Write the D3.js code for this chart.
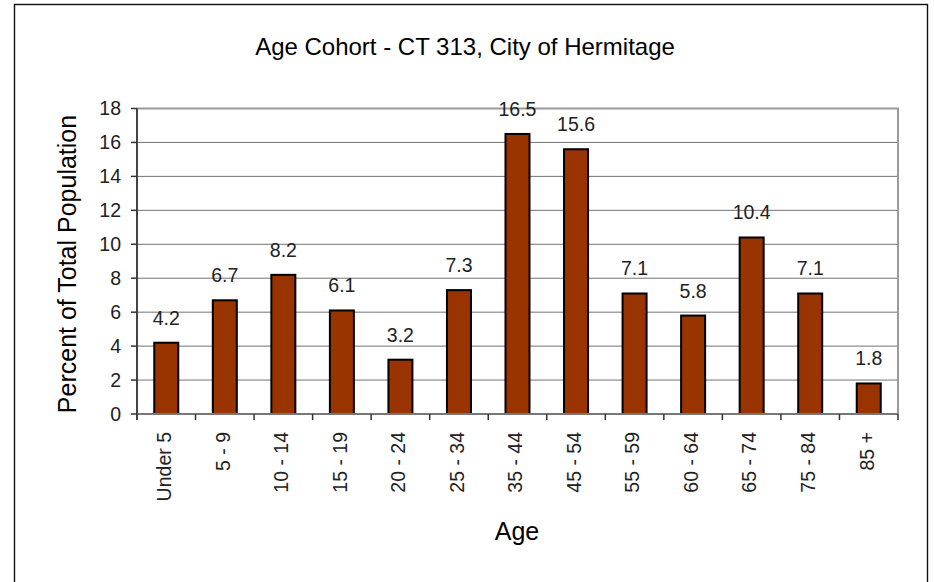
<!DOCTYPE html>
<html>
<head>
<meta charset="utf-8">
<script src="https://cdn.jsdelivr.net/npm/d3@7"></script>
<style>
  body { margin: 0; background: #fff; }
  svg { display: block; font-family: "Liberation Sans", Arial, sans-serif; }
</style>
</head>
<body>
<svg width="934" height="582"></svg>
<script>
// datos del grafico
const categories = ['Under 5', '5 - 9', '10 - 14', '15 - 19', '20 - 24', '25 - 34', '35 - 44',
                    '45 - 54', '55 - 59', '60 - 64', '65 - 74', '75 - 84', '85 +'];
const percents = [4.2, 6.7, 8.2, 6.1, 3.2, 7.3, 16.5, 15.6, 7.1, 5.8, 10.4, 7.1, 1.8];
const yTicks = [0, 2, 4, 6, 8, 10, 12, 14, 16, 18];

const svg = d3.select('svg');
const labelSize = 19.5; // tamaño de ticks y etiquetas

// marco exterior
svg.append('rect')
    .attr('x', 14.5).attr('y', 4.5)
    .attr('width', 913).attr('height', 620)
    .attr('fill', 'none')
    .attr('stroke', '#111')
    .attr('stroke-width', 1.4);

const plotLeft = 137, plotRight = 898, plotTop = 108.5, plotBottom = 414;

const x = d3.scaleBand()
    .domain(categories)
    .range([plotLeft, plotRight])
    .paddingInner(0.59)
    .paddingOuter(0.295);

const y = d3.scaleLinear()
    .domain([0, 18])
    .range([plotBottom, plotTop]);

// lineas de cuadricula
svg.append('g')
    .selectAll('line')
    .data(yTicks.filter(t => t > 0 && t < 18))
    .enter().append('line')
    .attr('x1', plotLeft).attr('x2', plotRight)
    .attr('y1', d => y(d)).attr('y2', d => y(d))
    .attr('stroke', '#727272')
    .attr('stroke-width', 1);

// borde superior y derecho del area
svg.append('path')
    .attr('d', `M${plotLeft},${y(18)}H${plotRight}V${plotBottom}`)
    .attr('fill', 'none')
    .attr('stroke', '#9a9a9a')
    .attr('stroke-width', 2);

// barras
svg.append('g')
    .selectAll('rect')
    .data(percents)
    .enter().append('rect')
    .attr('x', (d, i) => x(categories[i]))
    .attr('y', d => y(d))
    .attr('width', x.bandwidth())
    .attr('height', d => plotBottom - y(d))
    .attr('fill', '#993300')
    .attr('stroke', '#000')
    .attr('stroke-width', 2);

// eje X
svg.append('line')
    .attr('x1', plotLeft).attr('x2', plotRight)
    .attr('y1', plotBottom).attr('y2', plotBottom)
    .attr('stroke', '#777')
    .attr('stroke-width', 2);

const half = (x.step() - x.bandwidth()) / 2;
const bounds = categories.map(c => x(c) - half).concat([plotRight]);
svg.append('g')
    .selectAll('line')
    .data(bounds)
    .enter().append('line')
    .attr('x1', d => d).attr('x2', d => d)
    .attr('y1', plotBottom).attr('y2', plotBottom + 6)
    .attr('stroke', '#333')
    .attr('stroke-width', 1.5);

svg.append('g')
    .selectAll('text')
    .data(categories)
    .enter().append('text')
    .attr('transform', d => `translate(${x(d) + x.bandwidth() / 2 - 2},432) rotate(-90)`)
    .attr('text-anchor', 'end')
    .attr('dy', '0.35em')
    .attr('font-size', labelSize)
    .attr('fill', '#222')
    .text(d => d);

// eje Y
svg.append('line')
    .attr('x1', plotLeft).attr('x2', plotLeft)
    .attr('y1', plotTop).attr('y2', plotBottom + 6)
    .attr('stroke', '#444')
    .attr('stroke-width', 2);

svg.append('g')
    .selectAll('line')
    .data(yTicks)
    .enter().append('line')
    .attr('x1', plotLeft - 6).attr('x2', plotLeft)
    .attr('y1', d => y(d)).attr('y2', d => y(d))
    .attr('stroke', '#333')
    .attr('stroke-width', 1.5);

svg.append('g')
    .selectAll('text')
    .data(yTicks)
    .enter().append('text')
    .attr('x', 121)
    .attr('y', d => y(d))
    .attr('dy', '0.35em')
    .attr('text-anchor', 'end')
    .attr('font-size', labelSize)
    .attr('fill', '#222')
    .text(d => d);

// etiquetas de datos
svg.append('g')
    .selectAll('text')
    .data(percents)
    .enter().append('text')
    .attr('x', (d, i) => x(categories[i]) + x.bandwidth() / 2)
    .attr('y', d => y(d) - 18)
    .attr('text-anchor', 'middle')
    .attr('font-size', labelSize)
    .attr('fill', '#222')
    .text(d => d.toFixed(1));

// titulos
svg.append('text')
    .attr('x', 465).attr('y', 55)
    .attr('text-anchor', 'middle')
    .attr('font-size', 24)
    .attr('fill', '#000')
    .text('Age Cohort - CT 313, City of Hermitage');

svg.append('text')
    .attr('transform', 'translate(76,264) rotate(-90)')
    .attr('text-anchor', 'middle')
    .attr('font-size', 25)
    .attr('fill', '#000')
    .text('Percent of Total Population');

svg.append('text')
    .attr('x', 517).attr('y', 540)
    .attr('text-anchor', 'middle')
    .attr('font-size', 25)
    .attr('fill', '#000')
    .text('Age');
</script>
</body>
</html>
